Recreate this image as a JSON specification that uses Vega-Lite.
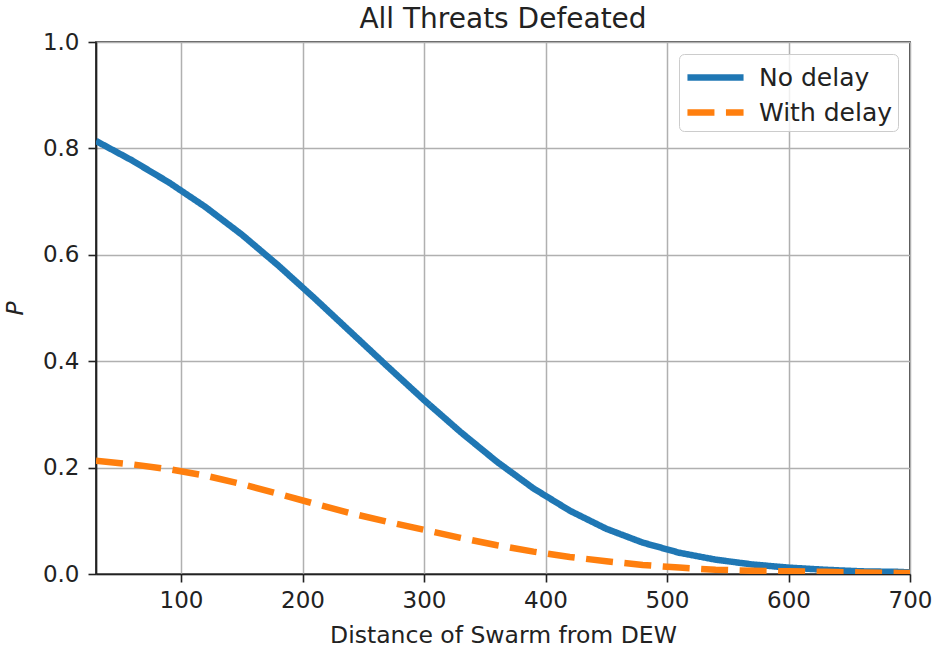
{
  "$schema": "https://vega.github.io/schema/vega-lite/v6.json",
  "width": 814,
  "height": 532,
  "autosize": "none",
  "padding": {"left": 96, "top": 42, "right": 26, "bottom": 75},
  "background": "white",
  "title": {
    "text": "All Threats Defeated",
    "fontSize": 28,
    "font": "DejaVu Sans",
    "fontWeight": "normal",
    "color": "#222",
    "offset": -3
  },
  "data": {
    "values": [
      {"d": 30, "p": 0.814, "series": "No delay"},
      {"d": 60, "p": 0.777, "series": "No delay"},
      {"d": 90, "p": 0.736, "series": "No delay"},
      {"d": 120, "p": 0.690, "series": "No delay"},
      {"d": 150, "p": 0.638, "series": "No delay"},
      {"d": 180, "p": 0.580, "series": "No delay"},
      {"d": 210, "p": 0.518, "series": "No delay"},
      {"d": 240, "p": 0.454, "series": "No delay"},
      {"d": 270, "p": 0.390, "series": "No delay"},
      {"d": 300, "p": 0.327, "series": "No delay"},
      {"d": 330, "p": 0.267, "series": "No delay"},
      {"d": 360, "p": 0.211, "series": "No delay"},
      {"d": 390, "p": 0.161, "series": "No delay"},
      {"d": 420, "p": 0.119, "series": "No delay"},
      {"d": 450, "p": 0.085, "series": "No delay"},
      {"d": 480, "p": 0.059, "series": "No delay"},
      {"d": 510, "p": 0.040, "series": "No delay"},
      {"d": 540, "p": 0.027, "series": "No delay"},
      {"d": 570, "p": 0.018, "series": "No delay"},
      {"d": 600, "p": 0.012, "series": "No delay"},
      {"d": 630, "p": 0.008, "series": "No delay"},
      {"d": 660, "p": 0.005, "series": "No delay"},
      {"d": 690, "p": 0.004, "series": "No delay"},
      {"d": 700, "p": 0.003, "series": "No delay"},
      {"d": 30, "p": 0.213, "series": "With delay"},
      {"d": 60, "p": 0.206, "series": "With delay"},
      {"d": 90, "p": 0.197, "series": "With delay"},
      {"d": 120, "p": 0.185, "series": "With delay"},
      {"d": 150, "p": 0.169, "series": "With delay"},
      {"d": 180, "p": 0.151, "series": "With delay"},
      {"d": 210, "p": 0.132, "series": "With delay"},
      {"d": 240, "p": 0.114, "series": "With delay"},
      {"d": 270, "p": 0.098, "series": "With delay"},
      {"d": 300, "p": 0.083, "series": "With delay"},
      {"d": 330, "p": 0.068, "series": "With delay"},
      {"d": 360, "p": 0.054, "series": "With delay"},
      {"d": 390, "p": 0.042, "series": "With delay"},
      {"d": 420, "p": 0.032, "series": "With delay"},
      {"d": 450, "p": 0.024, "series": "With delay"},
      {"d": 480, "p": 0.017, "series": "With delay"},
      {"d": 510, "p": 0.012, "series": "With delay"},
      {"d": 540, "p": 0.008, "series": "With delay"},
      {"d": 570, "p": 0.006, "series": "With delay"},
      {"d": 600, "p": 0.005, "series": "With delay"},
      {"d": 630, "p": 0.004, "series": "With delay"},
      {"d": 660, "p": 0.003, "series": "With delay"},
      {"d": 690, "p": 0.002, "series": "With delay"},
      {"d": 700, "p": 0.002, "series": "With delay"}
    ]
  },
  "mark": {"type": "line", "strokeWidth": 6.5, "strokeCap": "butt", "clip": true},
  "encoding": {
    "x": {
      "field": "d",
      "type": "quantitative",
      "title": "Distance of Swarm from DEW",
      "scale": {"domain": [30, 700], "nice": false, "zero": false},
      "axis": {"values": [100, 200, 300, 400, 500, 600, 700], "labelPadding": 7, "titlePadding": 11}
    },
    "y": {
      "field": "p",
      "type": "quantitative",
      "title": "P",
      "scale": {"domain": [0, 1], "nice": false},
      "axis": {
        "values": [0, 0.2, 0.4, 0.6, 0.8, 1.0],
        "format": ".1f",
        "labelPadding": 9,
        "titlePadding": 15,
        "titleFontStyle": "italic"
      }
    },
    "color": {
      "field": "series",
      "type": "nominal",
      "scale": {"domain": ["No delay", "With delay"], "range": ["#1f77b4", "#ff7f0e"]},
      "legend": {
        "title": null,
        "orient": "top-right",
        "offset": 12,
        "padding": 5,
        "fillColor": "rgba(255,255,255,0.8)",
        "strokeColor": "#cccccc",
        "cornerRadius": 5,
        "symbolType": "M-1.87,0H1.87",
        "symbolSize": 900,
        "symbolOffset": 13,
        "symbolStrokeWidth": 6.5,
        "labelFontSize": 25,
        "labelFont": "DejaVu Sans",
        "labelColor": "#222",
        "labelOffset": 25,
        "rowPadding": 3
      }
    },
    "strokeDash": {
      "field": "series",
      "type": "nominal",
      "scale": {"domain": ["No delay", "With delay"], "range": [[1, 0], [27, 11.5]]},
      "legend": null
    }
  },
  "config": {
    "font": "DejaVu Sans",
    "view": {"stroke": "#222", "strokeWidth": 1.7},
    "axis": {
      "labelFont": "DejaVu Sans",
      "labelFontSize": 23,
      "labelColor": "#222",
      "titleFont": "DejaVu Sans",
      "titleFontSize": 23.5,
      "titleFontWeight": "normal",
      "titleColor": "#222",
      "domainColor": "#222",
      "domainWidth": 1.7,
      "tickColor": "#222",
      "tickSize": 8,
      "tickWidth": 1.6,
      "gridColor": "#b0b0b0",
      "gridWidth": 1.5,
      "gridOpacity": 1,
      "labelFlush": false,
      "labelOverlap": false
    }
  }
}
